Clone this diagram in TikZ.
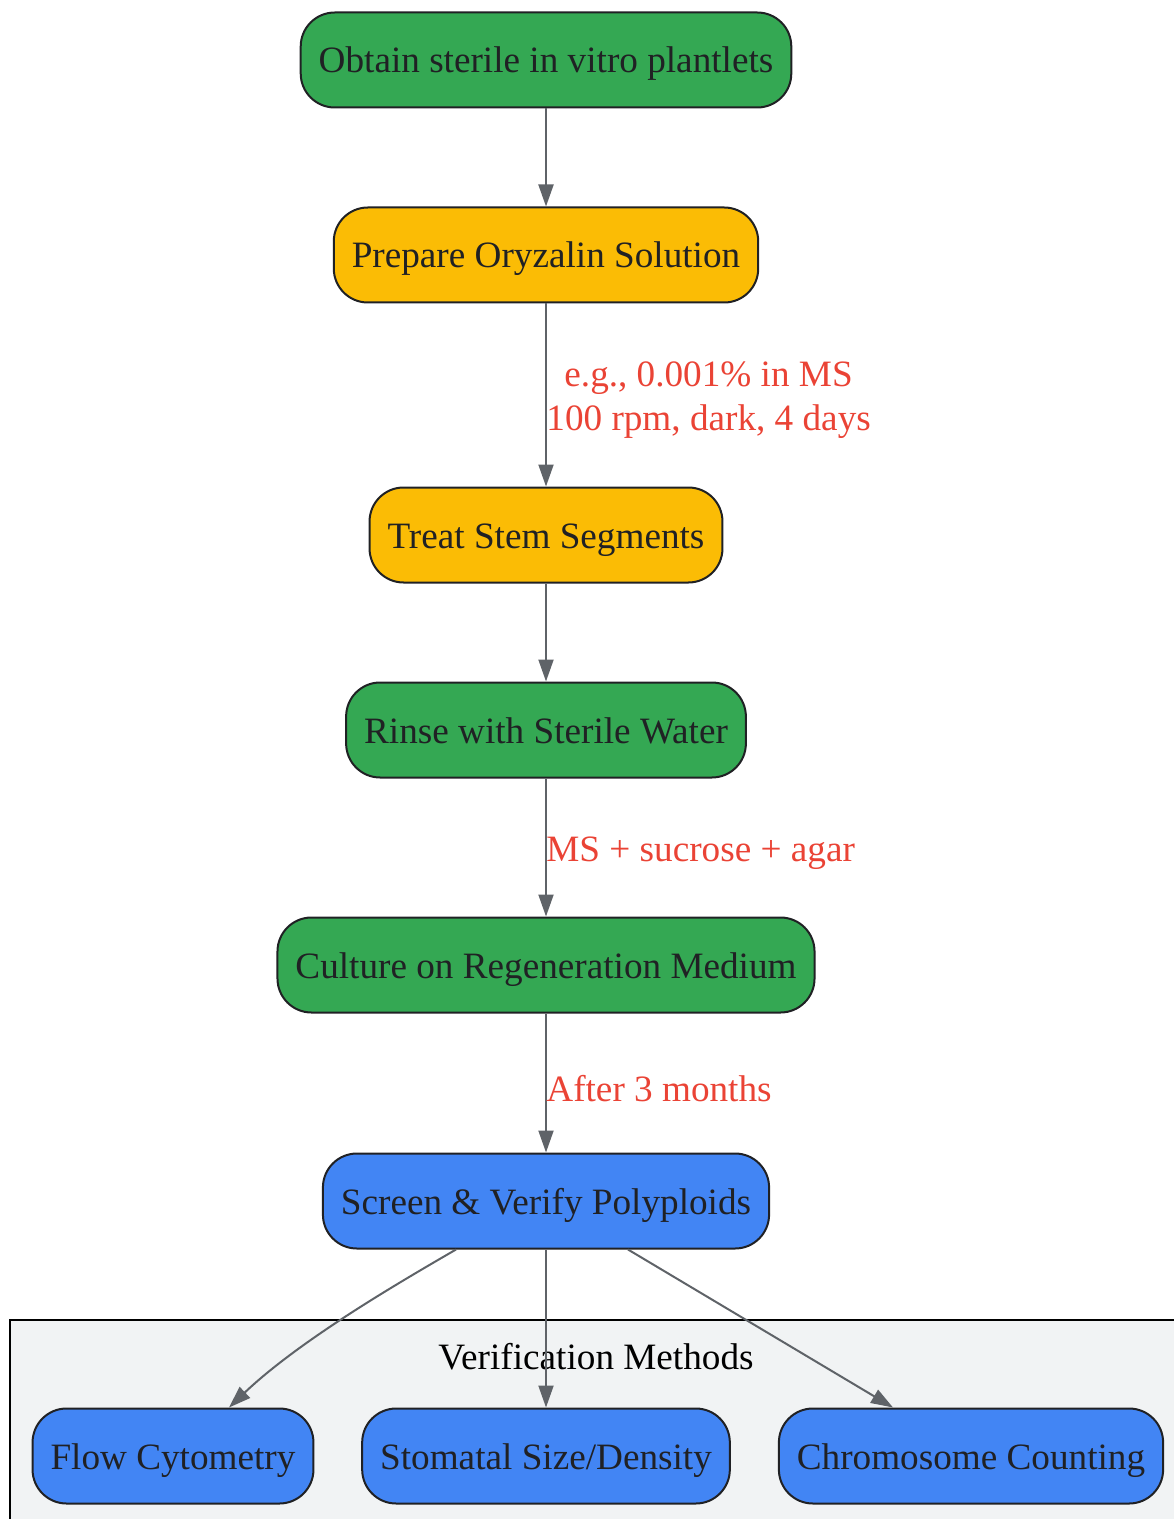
\documentclass[tikz,border=0pt]{standalone}
\usepackage{fontspec}
\setmainfont{Liberation Serif}
\usetikzlibrary{arrows.meta}
\definecolor{stepgreen}{HTML}{34A853}
\definecolor{stepyellow}{HTML}{FBBC05}
\definecolor{stepblue}{HTML}{4285F4}
\definecolor{notered}{HTML}{EA4335}
\definecolor{edgegray}{HTML}{5F6368}
\definecolor{textdark}{HTML}{202124}
\definecolor{clusterfill}{HTML}{F1F3F4}
\begin{document}
\begin{tikzpicture}[
		x=0.5pt, y=-0.5pt,
		every node/.style={font=\fontsize{18.6}{22}\selectfont},
		box/.style={rounded corners=17pt, draw=textdark, line width=1pt, minimum height=47.5pt, inner xsep=9pt, text height=13pt, text depth=0pt, text=textdark},
		edge/.style={draw=edgegray, line width=1pt, -{Triangle[length=11pt,width=7.5pt]}},
		note/.style={text=notered, align=center, anchor=west, inner sep=0pt}
		]
		\useasboundingbox (0,0) rectangle (1173,1519);
		\draw[fill=clusterfill, line width=1pt] (10,1320) rectangle (1190,1540);
		\node (cluster) at (596,1357) {Verification Methods};
		\node[box, fill=stepgreen] (obtain) at (546,60) {Obtain sterile in vitro plantlets};
		\node[box, fill=stepyellow] (prepare) at (546,255) {Prepare Oryzalin Solution};
		\node[box, fill=stepyellow] (treat) at (546,535) {Treat Stem Segments};
		\node[box, fill=stepgreen] (rinse) at (546,730) {Rinse with Sterile Water};
		\node[box, fill=stepgreen] (culture) at (546,965) {Culture on Regeneration Medium};
		\node[box, fill=stepblue] (screen) at (546,1201) {Screen \& Verify Polyploids};
		\node[box, fill=stepblue] (flow) at (173,1456) {Flow Cytometry};
		\node[box, fill=stepblue] (stomata) at (546,1456) {Stomatal Size/Density};
		\node[box, fill=stepblue] (chromo) at (971,1456) {Chromosome Counting};
		\draw[edge] (obtain) -- (prepare);
		\draw[edge] (prepare) -- (treat);
		\draw[edge] (treat) -- (rinse);
		\draw[edge] (rinse) -- (culture);
		\draw[edge] (culture) -- (screen);
		\draw[edge] ([xshift=-45pt]screen.south) .. controls (400,1282) and (300,1340) .. ([xshift=28pt]flow.north);
		\draw[edge] (screen) -- (stomata);
		\draw[edge] ([xshift=41pt]screen.south) -- ([xshift=-39pt]chromo.north);
		\node[note] (dose) at (546,400) {e.g., 0.001\% in MS\\100 rpm, dark, 4 days};
		\node[note] (medium) at (546,853) {MS + sucrose + agar};
		\node[note] (wait) at (546,1089) {After 3 months};
	\end{tikzpicture}
\end{document}
